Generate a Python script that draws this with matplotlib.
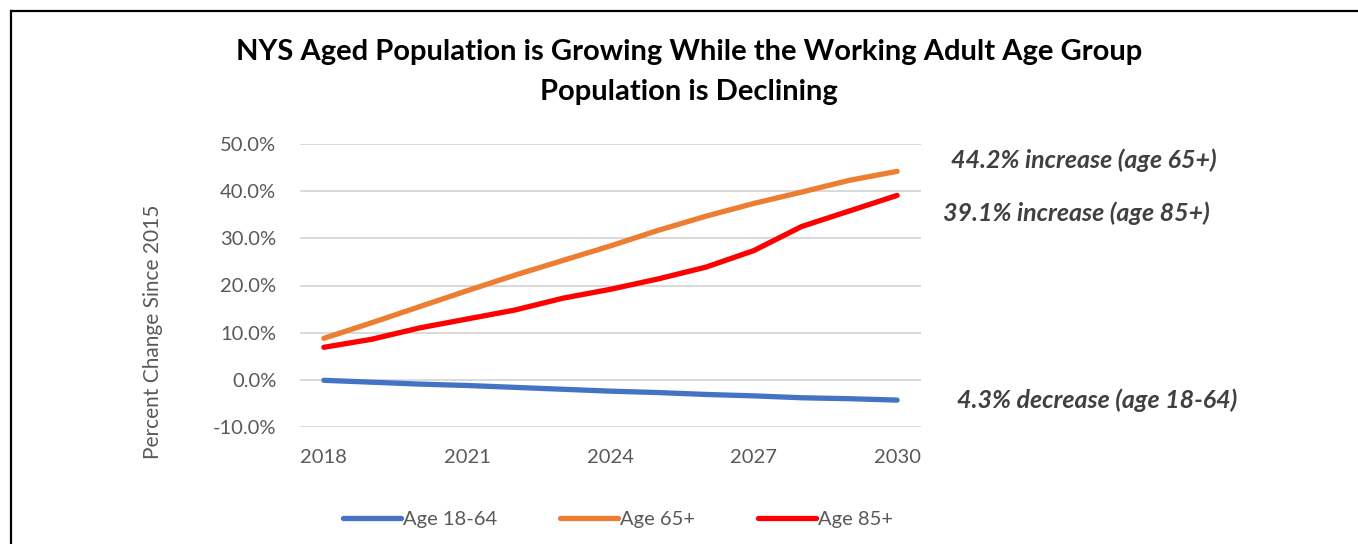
import matplotlib
matplotlib.use("Agg")
import matplotlib.pyplot as plt
from matplotlib.lines import Line2D
from matplotlib.ticker import FuncFormatter

plt.rcParams['font.family'] = ['Lato', 'DejaVu Sans']

years = [2018, 2019, 2020, 2021, 2022, 2023, 2024, 2025, 2026, 2027, 2028, 2029, 2030]
age_18_64 = [-0.1, -0.5, -0.9, -1.2, -1.6, -2.0, -2.4, -2.7, -3.1, -3.4, -3.8, -4.0, -4.3]
age_65_plus = [8.8, 12.1, 15.5, 18.9, 22.2, 25.3, 28.4, 31.7, 34.7, 37.4, 39.8, 42.3, 44.2]
age_85_plus = [6.9, 8.6, 11.0, 12.9, 14.8, 17.3, 19.2, 21.4, 23.9, 27.4, 32.5, 35.8, 39.1]
series_names = ["Age 18-64", "Age 65+", "Age 85+"]
colors = ["#4472C4", "#ED7D31", "#FF0000"]
xtick_years = [2018, 2021, 2024, 2027, 2030]
yticks = [-10, 0, 10, 20, 30, 40, 50]
annotations = ["44.2% increase (age 65+)", "39.1% increase (age 85+)", "4.3% decrease (age 18-64)"]

W, H = 1358, 544
fig = plt.figure(figsize=(W / 100, H / 100), dpi=100)
fig.patch.set_facecolor("white")

ax = fig.add_axes([300 / W, (H - 427) / H, 621 / W, 283 / H])
for vals, c, name in zip([age_18_64, age_65_plus, age_85_plus], colors, series_names):
    ax.plot(years, vals, color=c, lw=3.8, solid_capstyle="round", solid_joinstyle="round", label=name, zorder=3)

ax.set_xlim(2017.5, 2030.5)
ax.set_ylim(-10, 50)
ax.set_xticks(xtick_years)
ax.set_yticks(yticks)
ax.yaxis.set_major_formatter(FuncFormatter(lambda v, p: f"{v:.1f}%"))
ax.grid(axis="y", color="#d9d9d9", lw=1.4, zorder=0)
ax.grid(axis="x", visible=False)
for s in ax.spines.values():
    s.set_visible(False)
ax.tick_params(axis="both", length=0, colors="#595959", labelsize=14.5)
ax.tick_params(axis="y", pad=17)
ax.tick_params(axis="x", pad=16)

fig.text(153 / W, 1 - 332 / H, "Percent Change Since 2015", rotation=90, ha="center", va="center",
         color="#595959", fontsize=15)

fig.text(689 / W, 1 - 52 / H, "NYS Aged Population is Growing While the Working Adult Age Group",
         ha="center", va="center", fontsize=21, fontweight="bold", color="black")
fig.text(689 / W, 1 - 92 / H, "Population is Declining",
         ha="center", va="center", fontsize=21, fontweight="bold", color="black")

ann_pos = [(951, 160), (943, 213), (957, 400)]
for txt, (x, y) in zip(annotations, ann_pos):
    fig.text(x / W, 1 - y / H, txt, ha="left", va="center", fontsize=18, fontweight="bold",
             fontstyle="italic", color="#404040")

handles = [Line2D([0], [0], color=c, lw=3.8, solid_capstyle="round") for c in colors]
leg = fig.legend(handles, series_names, loc="center", bbox_to_anchor=(618 / W, 1 - 519 / H), ncol=3,
                 frameon=False, fontsize=14.5, handlelength=2.9, handletextpad=0.1, columnspacing=3.1)
for t in leg.get_texts():
    t.set_color("#595959")

fig.add_artist(Line2D([11 / W, 1.0], [1 - 11 / H, 1 - 11 / H], color="black", lw=1.6, transform=fig.transFigure))
fig.add_artist(Line2D([11 / W, 11 / W], [1 - 11 / H, 0], color="black", lw=1.6, transform=fig.transFigure))

fig.savefig("out.png", dpi=100, facecolor="white")
